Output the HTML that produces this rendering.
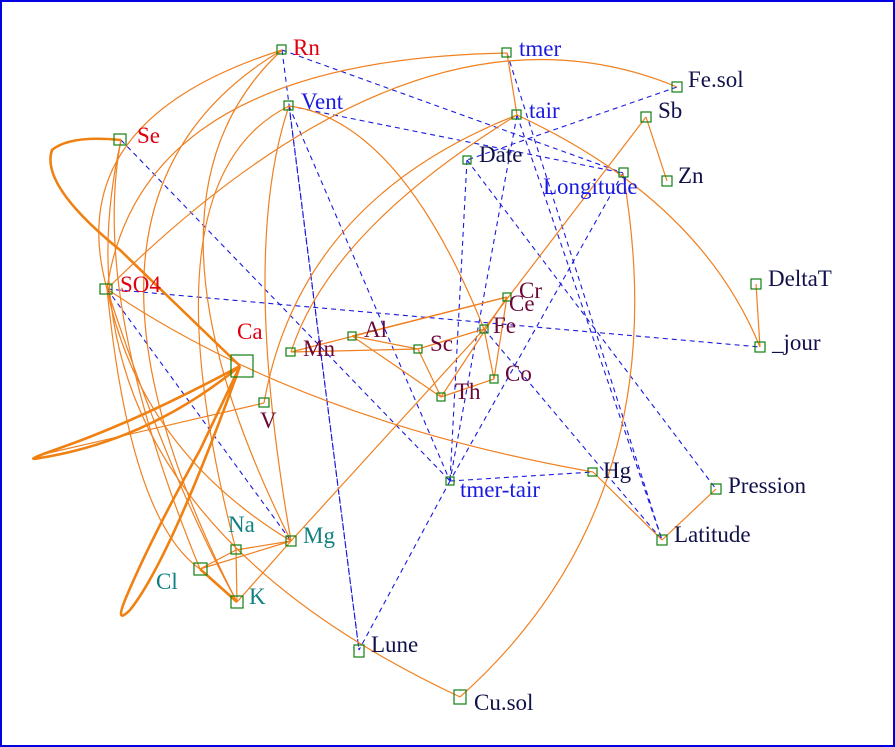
<!DOCTYPE html>
<html><head><meta charset="utf-8"><style>
html,body{margin:0;padding:0;background:#fff}
svg{display:block}
svg text{font-family:"Liberation Serif","Times New Roman","DejaVu Serif",serif;font-size:23px}
.r{fill:#e00010}.b{fill:#1a1ae0}.k{fill:#10104a}.m{fill:#6a0838}.t{fill:#108080}
.o{fill:none;stroke:#f08020;stroke-width:1.2}
.ot{fill:none;stroke:#f08010;stroke-width:2.6}
.d{stroke:#1a1ae0;stroke-width:1.1;stroke-dasharray:5,4;fill:none}
.n{fill:none;stroke:#108010;stroke-width:1.2}
</style></head><body>
<svg width="895" height="747" viewBox="0 0 895 747" font-family="Liberation Serif, serif">
<rect x="1" y="1" width="893" height="745" fill="#fff" stroke="#0000e0" stroke-width="2"/>
<g class="d">
<line x1="282" y1="50" x2="623" y2="173"/>
<line x1="282" y1="50" x2="359" y2="650"/>
<line x1="289" y1="106" x2="359" y2="650"/>
<line x1="289" y1="106" x2="450" y2="481"/>
<line x1="121" y1="140" x2="450" y2="481"/>
<line x1="107" y1="289" x2="760" y2="347"/>
<line x1="107" y1="289" x2="291" y2="541"/>
<line x1="517" y1="115" x2="662" y2="540"/>
<line x1="507" y1="53" x2="662" y2="540"/>
<line x1="467" y1="160" x2="450" y2="481"/>
<line x1="517" y1="115" x2="450" y2="481"/>
<line x1="677" y1="87" x2="467" y2="160"/>
<line x1="467" y1="160" x2="716" y2="489"/>
<line x1="623" y1="173" x2="450" y2="481"/>
<line x1="450" y1="481" x2="359" y2="650"/>
<line x1="450" y1="481" x2="593" y2="472"/>
<line x1="484" y1="329" x2="662" y2="540"/>
<line x1="289" y1="106" x2="623" y2="173"/>
</g>
<g class="o">
<path d="M282 50 Q60 120 107 289"/>
<path d="M282 50 Q30 200 237 602"/>
<path d="M282 50 Q120 200 291 541"/>
<path d="M507 53 Q140 60 107 289"/>
<path d="M677 87 Q420 -20 107 289"/>
<path d="M289 106 Q140 180 236 550"/>
<path d="M121 140 Q90 300 200 569"/>
<path d="M121 140 Q40 500 460 697"/>
<path d="M107 289 Q140 450 291 541"/>
<path d="M107 289 Q170 480 237 602"/>
<path d="M107 289 Q300 420 593 472"/>
<path d="M289 106 Q400 120 484 329"/>
<path d="M289 106 Q240 250 291 541"/>
<path d="M507 53 L517 115"/>
<path d="M517 115 Q300 200 264 403"/>
<path d="M517 115 Q330 230 291 352"/>
<path d="M517 115 Q700 200 760 347"/>
<path d="M646 117 L667 181"/>
<path d="M646 117 L484 329"/>
<path d="M623 173 Q680 500 460 697"/>
<path d="M756 284 L760 347"/>
<path d="M291 352 L507 297"/><path d="M291 352 L418 349"/>
<path d="M352 336 L507 297"/><path d="M352 336 L441 397"/><path d="M352 336 L418 349"/>
<path d="M418 349 L484 329"/><path d="M418 349 L441 397"/>
<path d="M441 397 L507 297"/><path d="M441 397 L494 379"/>
<path d="M494 379 L507 297"/><path d="M484 329 L494 379"/>
<path d="M484 329 L291 541"/>
<path d="M264 403 L40 455"/>
<path d="M593 472 L662 540"/><path d="M662 540 L716 489"/>
<path d="M291 541 L236 550"/><path d="M291 541 L200 569"/><path d="M291 541 L237 602"/>
<path d="M236 550 L200 569"/><path d="M236 550 L237 602"/>
<path d="M200 569 Q130 520 107 289"/>
</g>
<g class="ot">
<path d="M240 366 L120 250 Q40 185 52 150 Q70 135 121 140"/>
<path d="M240 366 Q140 420 60 448 Q20 462 40 458 Q150 440 240 366"/>
<path d="M240 366 L200 450 Q150 540 125 600 Q115 625 130 610 Q170 560 240 366"/>
<path d="M200 569 L237 602"/>
</g>
<g class="n">
<rect x="277" y="45" width="9" height="9"/><rect x="502" y="48" width="9" height="9"/>
<rect x="672" y="82" width="10" height="10"/><rect x="284" y="101" width="9" height="9"/>
<rect x="512" y="110" width="9" height="9"/><rect x="641" y="112" width="10" height="10"/>
<rect x="114" y="134" width="12" height="11"/><rect x="463" y="156" width="8" height="8"/>
<rect x="619" y="168" width="9" height="9"/><rect x="662" y="176" width="10" height="10"/>
<rect x="751" y="279" width="10" height="10"/><rect x="100" y="284" width="12" height="10"/>
<rect x="503" y="293" width="8" height="8"/><rect x="480" y="325" width="8" height="8"/>
<rect x="348" y="332" width="8" height="8"/><rect x="755" y="342" width="10" height="10"/>
<rect x="414" y="345" width="8" height="8"/><rect x="286" y="348" width="9" height="8"/>
<rect x="231" y="355" width="22" height="22"/><rect x="490" y="375" width="8" height="8"/>
<rect x="437" y="393" width="8" height="8"/><rect x="259" y="398" width="10" height="9"/>
<rect x="588" y="468" width="9" height="8"/><rect x="446" y="477" width="8" height="8"/>
<rect x="711" y="484" width="10" height="10"/><rect x="657" y="535" width="10" height="10"/>
<rect x="231" y="545" width="10" height="9"/><rect x="286" y="536" width="10" height="10"/>
<rect x="194" y="563" width="13" height="12"/><rect x="231" y="596" width="12" height="12"/>
<rect x="354" y="645" width="10" height="12"/><rect x="454" y="690" width="12" height="14"/>
</g>
<text x="293" y="55" class="r">Rn</text>
<text x="519" y="56" class="b">tmer</text>
<text x="688" y="87" class="k">Fe.sol</text>
<text x="301" y="109" class="b">Vent</text>
<text x="529" y="118" class="b">tair</text>
<text x="658" y="118" class="k">Sb</text>
<text x="137" y="143" class="r">Se</text>
<text x="479" y="162" class="k">Date</text>
<text x="543" y="194" class="b">Longitude</text>
<text x="678" y="183" class="k">Zn</text>
<text x="768" y="286" class="k">DeltaT</text>
<text x="120" y="292" class="r">SO4</text>
<text x="519" y="298" class="m">Cr</text>
<text x="509" y="311" class="m">Ce</text>
<text x="493" y="333" class="m">Fe</text>
<text x="364" y="337" class="m">Al</text>
<text x="772" y="350" class="k">_jour</text>
<text x="430" y="351" class="m">Sc</text>
<text x="303" y="356" class="m">Mn</text>
<text x="237" y="339" class="r">Ca</text>
<text x="505" y="381" class="m">Co</text>
<text x="455" y="399" class="m">Th</text>
<text x="260" y="428" class="m">V</text>
<text x="603" y="478" class="k">Hg</text>
<text x="460" y="497" class="b">tmer-tair</text>
<text x="728" y="493" class="k">Pression</text>
<text x="674" y="542" class="k">Latitude</text>
<text x="228" y="532" class="t">Na</text>
<text x="303" y="543" class="t">Mg</text>
<text x="156" y="589" class="t">Cl</text>
<text x="249" y="604" class="t">K</text>
<text x="371" y="652" class="k">Lune</text>
<text x="474" y="710" class="k">Cu.sol</text>
</svg>
</body></html>
